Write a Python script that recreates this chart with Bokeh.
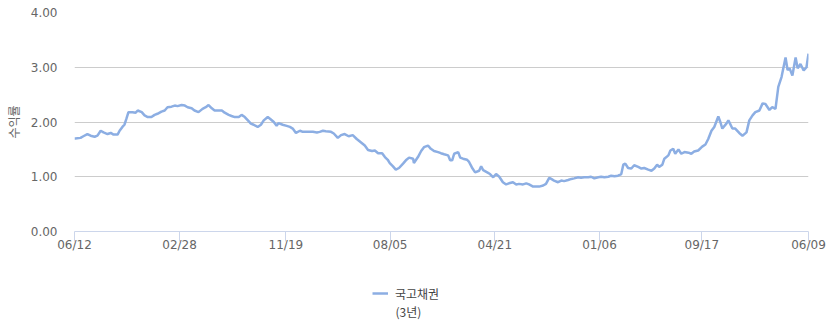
import datetime as dt
from bokeh.plotting import figure
from bokeh.layouts import column
from bokeh.models import (ColumnDataSource, FixedTicker, Range1d, Legend, LegendItem, Label,
                          CustomJSTickFormatter, NumeralTickFormatter)
from bokeh.embed import file_html
from bokeh.resources import INLINE

start_date = "2017-06-12"
end_date = "2022-06-09"

# day offsets from start_date, and 3-year treasury yield (%)
day_offsets = [0, 2, 15, 22, 32, 40, 50, 57, 65, 72, 82, 90, 97, 107, 112, 119, 124, 129, 134, 144,
               152, 157, 167, 174, 182, 191, 199, 206, 216, 224, 231, 241, 249, 256, 266, 274, 281, 291, 298, 308,
               318, 326, 333, 341, 348, 358, 366, 373, 383, 390, 398, 408, 415, 423, 433, 438, 445, 455, 463, 470,
               480, 487, 495, 502, 507, 517, 527, 535, 542, 550, 560, 567, 577, 584, 592, 602, 609, 617, 624, 637,
               644, 654, 662, 671, 681, 691, 701, 711, 721, 729, 739, 746, 754, 764, 771, 778, 783, 791, 798, 806,
               816, 823, 831, 841, 843, 853, 861, 868, 878, 885, 893, 903, 910, 918, 928, 933, 938, 943, 953, 958,
               965, 975, 980, 987, 995, 1005, 1010, 1015, 1025, 1032, 1040, 1047, 1055, 1064, 1072, 1079, 1089, 1097, 1104, 1114,
               1122, 1129, 1139, 1147, 1154, 1164, 1171, 1179, 1184, 1191, 1201, 1209, 1216, 1226, 1234, 1241, 1251, 1258, 1266, 1276,
               1283, 1291, 1301, 1308, 1316, 1326, 1333, 1341, 1350, 1358, 1363, 1368, 1375, 1383, 1390, 1400, 1408, 1415, 1425, 1433,
               1440, 1447, 1452, 1460, 1465, 1475, 1480, 1487, 1492, 1500, 1507, 1515, 1525, 1532, 1539, 1549, 1559, 1567, 1574, 1582,
               1589, 1599, 1604, 1609, 1619, 1624, 1634, 1641, 1651, 1659, 1669, 1676, 1684, 1691, 1701, 1709, 1716, 1726, 1733, 1741,
               1748, 1756, 1761, 1766, 1771, 1776, 1783, 1791, 1796, 1803, 1811, 1818, 1823]
yields = [1.70, 1.70, 1.71, 1.74, 1.78, 1.75, 1.73, 1.75, 1.84, 1.81, 1.78, 1.80, 1.77, 1.77, 1.84, 1.91, 1.95, 2.06, 2.18, 2.18,
          2.17, 2.21, 2.18, 2.12, 2.09, 2.09, 2.13, 2.15, 2.19, 2.21, 2.27, 2.28, 2.30, 2.29, 2.31, 2.30, 2.27, 2.25, 2.21, 2.18,
          2.24, 2.27, 2.31, 2.25, 2.21, 2.21, 2.21, 2.17, 2.13, 2.11, 2.09, 2.09, 2.13, 2.09, 2.01, 1.97, 1.95, 1.91, 1.95, 2.03,
          2.09, 2.05, 2.00, 1.93, 1.98, 1.95, 1.93, 1.91, 1.88, 1.80, 1.84, 1.82, 1.82, 1.82, 1.82, 1.81, 1.82, 1.84, 1.83, 1.82,
          1.79, 1.71, 1.76, 1.78, 1.74, 1.76, 1.69, 1.63, 1.57, 1.49, 1.47, 1.48, 1.43, 1.43, 1.36, 1.31, 1.25, 1.19, 1.13, 1.16,
          1.24, 1.30, 1.35, 1.33, 1.25, 1.36, 1.47, 1.54, 1.57, 1.51, 1.47, 1.45, 1.43, 1.41, 1.39, 1.30, 1.30, 1.42, 1.45, 1.35,
          1.33, 1.31, 1.27, 1.17, 1.08, 1.11, 1.19, 1.12, 1.08, 1.05, 0.99, 1.05, 1.00, 0.90, 0.86, 0.88, 0.90, 0.86, 0.87, 0.86,
          0.88, 0.86, 0.82, 0.82, 0.82, 0.84, 0.87, 0.98, 0.96, 0.93, 0.90, 0.93, 0.92, 0.94, 0.96, 0.97, 0.99, 0.98, 0.99, 0.99,
          1.00, 0.97, 0.99, 1.00, 0.99, 1.00, 1.02, 1.01, 1.02, 1.05, 1.22, 1.24, 1.16, 1.15, 1.21, 1.18, 1.15, 1.16, 1.13, 1.11,
          1.15, 1.22, 1.18, 1.22, 1.33, 1.39, 1.48, 1.51, 1.42, 1.50, 1.42, 1.45, 1.44, 1.42, 1.46, 1.48, 1.55, 1.59, 1.69, 1.84,
          1.91, 2.10, 2.00, 1.88, 1.97, 2.03, 1.88, 1.88, 1.80, 1.75, 1.81, 2.03, 2.12, 2.18, 2.21, 2.34, 2.33, 2.22, 2.27, 2.24,
          2.64, 2.82, 3.00, 3.18, 2.95, 2.98, 2.85, 3.18, 2.98, 3.06, 2.94, 3.00, 3.25]

x_tick_dates = ["2017-06-12", "2018-02-28", "2018-11-19", "2019-08-05",
                "2020-04-21", "2021-01-06", "2021-09-17", "2022-06-09"]
x_tick_labels = ["06/12", "02/28", "11/19", "08/05", "04/21", "01/06", "09/17", "06/09"]
y_ticks = [0, 1, 2, 3, 4]

series_name = "국고채권"
series_name_line2 = "(3년)"
y_axis_title = "수익률"

LINE_COLOR = "#8caee3"

start = dt.datetime.strptime(start_date, "%Y-%m-%d")
end = dt.datetime.strptime(end_date, "%Y-%m-%d")
dates = [start + dt.timedelta(days=d) for d in day_offsets]

def to_ms(d):
    return (d - dt.datetime(1970, 1, 1)).total_seconds() * 1000.0

tick_ms = [to_ms(dt.datetime.strptime(s, "%Y-%m-%d")) for s in x_tick_dates]

src = ColumnDataSource(dict(x=dates, y=yields))

p = figure(width=828, height=263, x_axis_type="datetime", output_backend="svg",
           toolbar_location=None, min_border_left=74, min_border_right=20,
           min_border_top=12, min_border_bottom=32)
p.x_range = Range1d(to_ms(start), to_ms(end))
p.y_range = Range1d(0, 4)
p.outline_line_color = None
p.background_fill_color = "white"
p.border_fill_color = "white"

r = p.line("x", "y", source=src, line_color=LINE_COLOR, line_width=2.5)

# x axis
xa = p.xaxis[0]
xa.ticker = FixedTicker(ticks=tick_ms)
label_map = {str(int(m)): l for m, l in zip(tick_ms, x_tick_labels)}
xa.formatter = CustomJSTickFormatter(args=dict(m=label_map), code="return m[String(Math.round(tick))] || '';")
xa.axis_line_color = "#ccd6eb"
xa.major_tick_line_color = "#ccd6eb"
xa.major_tick_out = 10
xa.major_tick_in = 0
xa.minor_tick_line_color = None
xa.major_label_standoff = -4
xa.major_label_text_font = "DejaVu Sans"
xa.major_label_text_font_size = "12px"
xa.major_label_text_color = "#666666"

# y axis
ya = p.yaxis[0]
ya.ticker = FixedTicker(ticks=y_ticks)
ya.formatter = NumeralTickFormatter(format="0.00")
ya.axis_line_color = None
ya.major_tick_line_color = None
ya.minor_tick_line_color = None
ya.major_label_standoff = 11
ya.major_label_text_font = "DejaVu Sans"
ya.major_label_text_font_size = "12px"
ya.major_label_text_color = "#666666"
ya.axis_label = y_axis_title
ya.axis_label_text_font = "Noto Sans CJK KR"
ya.axis_label_text_font_size = "12px"
ya.axis_label_text_font_style = "normal"
ya.axis_label_text_color = "#666666"
ya.axis_label_standoff = 6

p.xgrid.grid_line_color = None
p.ygrid.grid_line_color = "#cccccc"
p.ygrid.grid_line_width = 1

# legend area (separate strip below the chart; its frame aligns with the chart's frame)
lg = figure(width=828, height=60, output_backend="svg", toolbar_location=None,
            x_axis_location=None, y_axis_location=None,
            min_border=0, x_range=Range1d(0, 1), y_range=Range1d(0, 1))
lg.outline_line_color = None
lg.xgrid.grid_line_color = None
lg.ygrid.grid_line_color = None
lg.background_fill_color = "white"
lg.border_fill_color = "white"
# legend proxy: same style as the series, kept outside the visible range
dummy = lg.line(x=[-10, -9], y=[-10, -9], line_color=LINE_COLOR, line_width=2.5)

legend = Legend(items=[LegendItem(label=series_name, renderers=[dummy])],
                location=(298, 20), orientation="vertical",
                padding=0, margin=0, spacing=0, glyph_width=16, glyph_height=20,
                label_height=20, label_standoff=7, border_line_color=None,
                background_fill_alpha=0,
                label_text_font="Noto Sans CJK KR", label_text_font_size="12px",
                label_text_color="#444444")
lg.add_layout(legend, "center")
lg.add_layout(Label(x=321, y=12, x_units="screen", y_units="screen", text=series_name_line2,
                    text_font="Noto Sans CJK KR", text_font_size="12px",
                    text_color="#444444", text_baseline="middle", text_align="left"))

layout = column(p, lg, spacing=0)
open("out.html", "w").write(file_html(layout, INLINE))
